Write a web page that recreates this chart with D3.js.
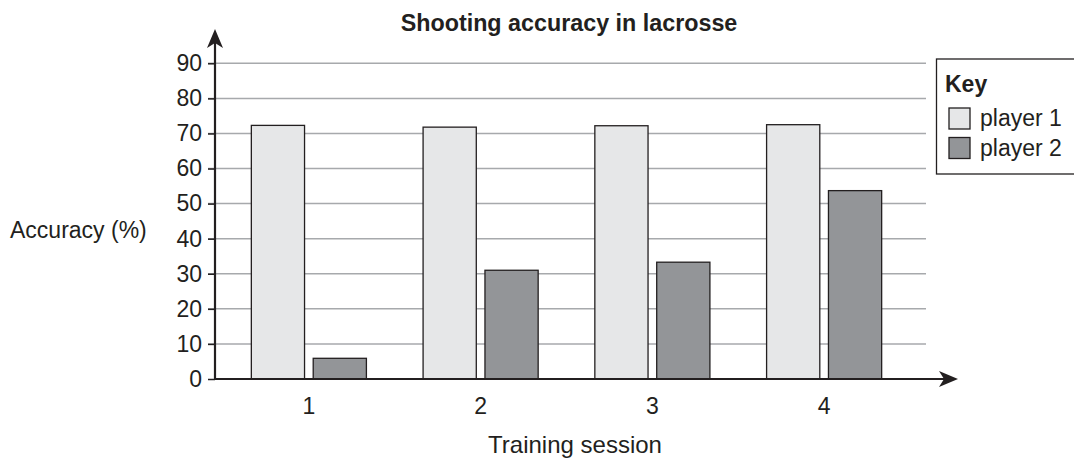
<!DOCTYPE html>
<html>
<head>
<meta charset="utf-8">
<script src="https://cdn.jsdelivr.net/npm/d3@7"></script>
<style>
  body { margin: 0; background: #fff; }
  text { font-family: "Liberation Sans", Arial, sans-serif; fill: #231f20; }
  .grid line { stroke: #a7a9ac; stroke-width: 1.5; }
  .bar { stroke: #231f20; stroke-width: 1.3; }
</style>
</head>
<body>
<svg id="chart"></svg>
<script>
//data
const sessions = ['1', '2', '3', '4'];
const players = ['player 1', 'player 2'];
const player1 = [72.3, 71.8, 72.2, 72.5];
const player2 = [5.9, 31.0, 33.3, 53.7];
const yTicks = [0, 10, 20, 30, 40, 50, 60, 70, 80, 90];
const colors = ['#e6e7e8', '#939598'];

const width = 1074, height = 459;
const x0 = 215, y0 = 379;
const fs = '23px';

const svg = d3.select('#chart')
  .attr('width', width)
  .attr('height', height);

//scales
const yScale = d3.scaleLinear().domain([0, 90]).range([y0, 63.3]);
const xScale = d3.scaleBand().domain(sessions).range([223, 910]).paddingInner(0.33).paddingOuter(0.165);
const xSub = d3.scaleBand().domain(players).range([0, xScale.bandwidth()]).paddingInner(0.14);

//gridlines
svg.append('g')
  .attr('class', 'grid')
  .selectAll('line')
  .data(yTicks.filter(d => d > 0))
  .enter()
  .append('line')
    .attr('x1', x0 - 7)
    .attr('x2', 926)
    .attr('y1', d => yScale(d))
    .attr('y2', d => yScale(d));

//bars
const rows = sessions.map((s, i) => ({ session: s, values: [player1[i], player2[i]] }));
svg.append('g')
  .selectAll('g')
  .data(rows)
  .enter()
  .append('g')
    .attr('transform', d => 'translate(' + xScale(d.session) + ',0)')
  .selectAll('rect')
  .data(d => d.values.map((v, j) => ({ player: players[j], value: v, j: j })))
  .enter()
  .append('rect')
    .attr('class', 'bar')
    .attr('x', d => xSub(d.player))
    .attr('y', d => yScale(d.value))
    .attr('width', xSub.bandwidth())
    .attr('height', d => y0 - yScale(d.value))
    .attr('fill', d => colors[d.j]);

//y axis
const yAxis = d3.axisLeft(yScale).tickValues(yTicks).tickSize(7).tickPadding(6);
const gy = svg.append('g')
  .attr('transform', 'translate(' + x0 + ',0)')
  .call(yAxis);
gy.select('.domain').remove();
gy.selectAll('.tick line').attr('stroke', '#231f20').attr('stroke-width', 1.5);
gy.selectAll('.tick text').style('font-size', fs).attr('fill', '#231f20');

//x axis
const xAxis = d3.axisBottom(xScale).tickSize(0).tickPadding(19);
const gx = svg.append('g')
  .attr('transform', 'translate(0,' + y0 + ')')
  .call(xAxis);
gx.select('.domain').remove();
gx.selectAll('.tick text').style('font-size', fs).attr('fill', '#231f20');

//axis lines with arrows
svg.append('line')
  .attr('x1', x0).attr('x2', x0)
  .attr('y1', y0 + 1).attr('y2', 40)
  .attr('stroke', '#231f20').attr('stroke-width', 2.2);
svg.append('path')
  .attr('d', `M${x0},29 L${x0 - 8},48 L${x0},43 L${x0 + 8},48 Z`)
  .attr('fill', '#231f20');
svg.append('line')
  .attr('x1', x0 - 1).attr('x2', 945)
  .attr('y1', y0).attr('y2', y0)
  .attr('stroke', '#231f20').attr('stroke-width', 2.2);
svg.append('path')
  .attr('d', `M958,${y0} L939,${y0 - 8} L944,${y0} L939,${y0 + 8} Z`)
  .attr('fill', '#231f20');

//labels
svg.append('text')
  .attr('x', 569).attr('y', 31)
  .attr('text-anchor', 'middle')
  .style('font-size', '23.3px').style('font-weight', 'bold')
  .text('Shooting accuracy in lacrosse');
svg.append('text')
  .attr('x', 10).attr('y', 238)
  .style('font-size', fs)
  .text('Accuracy (%)');
svg.append('text')
  .attr('x', 575).attr('y', 453)
  .attr('text-anchor', 'middle')
  .style('font-size', '24px')
  .text('Training session');

//legend
const legend = svg.append('g');
legend.append('rect')
  .attr('x', 936.5).attr('y', 59).attr('width', 140).attr('height', 115)
  .attr('fill', '#fff').attr('stroke', '#231f20').attr('stroke-width', 1.3);
legend.append('text')
  .attr('x', 945).attr('y', 92)
  .style('font-size', fs).style('font-weight', 'bold')
  .text('Key');
legend.selectAll('.item')
  .data(players)
  .enter()
  .append('g')
    .attr('class', 'item')
    .attr('transform', (d, i) => 'translate(949,' + (108 + i * 29.5) + ')')
  .call(g => g.append('rect')
    .attr('width', 21).attr('height', 21)
    .attr('fill', (d, i) => colors[i])
    .attr('stroke', '#231f20').attr('stroke-width', 1.3))
  .call(g => g.append('text')
    .attr('x', 31).attr('y', 18)
    .style('font-size', fs)
    .text(d => d));
</script>
</body>
</html>
